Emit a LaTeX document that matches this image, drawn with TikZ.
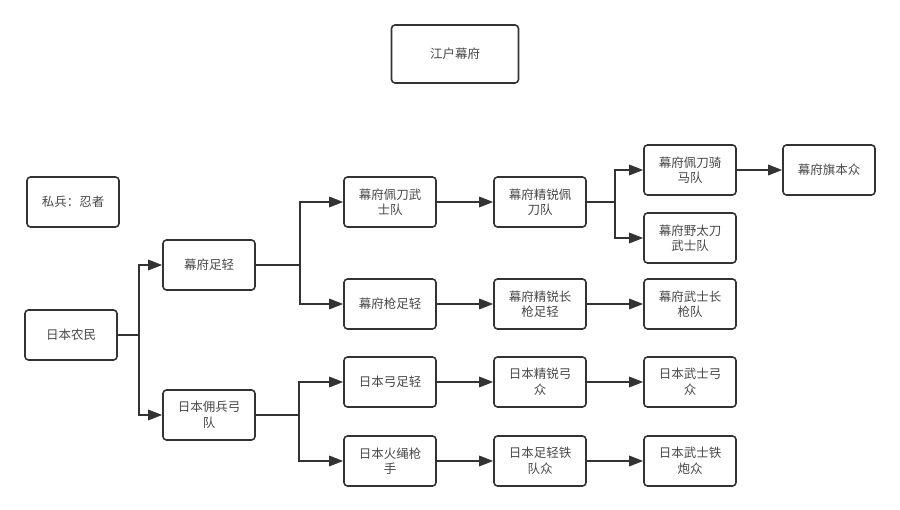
\documentclass[tikz,border=0pt]{standalone}
\usepackage{fontspec}
\setmainfont{Noto Sans CJK SC}
\usetikzlibrary{arrows.meta}
\definecolor{ink}{HTML}{333333}
\tikzset{
  box/.style={draw=ink,line width=1.6pt,rounded corners=3.5pt,minimum width=92pt,
    minimum height=50pt,inner sep=0pt,align=center,text=ink!90,
    font=\fontsize{12.5}{15.5}\selectfont},
  arr/.style={draw=ink,line width=1.6pt,-{Triangle[length=14pt,width=10.5pt]}},
  ln/.style={draw=ink,line width=1.6pt}
}
\begin{document}
\begin{tikzpicture}[x=1pt,y=-1pt]
\useasboundingbox (0,0) rectangle (900,510);
\node[box,minimum width=127pt,minimum height=58pt] (edo) at (455,54) {江户幕府};
\node[box] (ninja) at (73,202) {私兵：忍者};
\node[box] (nongmin) at (71,335) {日本农民};
\node[box] (zuqing) at (209,265) {幕府足轻};
\node[box] (yongbing) at (209,415) {日本佣兵弓\\队};
\node[box] (peidao) at (390,202) {幕府佩刀武\\士队};
\node[box] (qiang) at (390,304) {幕府枪足轻};
\node[box] (gong) at (390,382) {日本弓足轻};
\node[box] (huosheng) at (390,461) {日本火绳枪\\手};
\node[box] (jrpeidao) at (540,202) {幕府精锐佩\\刀队};
\node[box] (jrqiang) at (540,304) {幕府精锐长\\枪足轻};
\node[box] (jrgong) at (540,382) {日本精锐弓\\众};
\node[box] (tiedui) at (540,461) {日本足轻铁\\队众};
\node[box] (qima) at (690,170) {幕府佩刀骑\\马队};
\node[box] (yetaidao) at (690,238) {幕府野太刀\\武士队};
\node[box] (wsqiang) at (690,304) {幕府武士长\\枪队};
\node[box] (wsgong) at (690,382) {日本武士弓\\众};
\node[box] (tiepao) at (690,461) {日本武士铁\\炮众};
\node[box] (qiben) at (829,170) {幕府旗本众};
\coordinate (f1) at (139,335);
\coordinate (f2) at (300,265);
\coordinate (f3) at (299,415);
\coordinate (f4) at (615,202);
\draw[ln] (nongmin.east) -- (f1);
\draw[arr] (f1) |- (zuqing.west);
\draw[arr] (f1) |- (yongbing.west);
\draw[ln] (zuqing.east) -- (f2);
\draw[arr] (f2) |- (peidao.west);
\draw[arr] (f2) |- (qiang.west);
\draw[ln] (yongbing.east) -- (f3);
\draw[arr] (f3) |- (gong.west);
\draw[arr] (f3) |- (huosheng.west);
\draw[ln] (jrpeidao.east) -- (f4);
\draw[arr] (f4) |- (qima.west);
\draw[arr] (f4) |- (yetaidao.west);
\draw[arr] (peidao) -- (jrpeidao);
\draw[arr] (qiang) -- (jrqiang);
\draw[arr] (jrqiang) -- (wsqiang);
\draw[arr] (gong) -- (jrgong);
\draw[arr] (jrgong) -- (wsgong);
\draw[arr] (huosheng) -- (tiedui);
\draw[arr] (tiedui) -- (tiepao);
\draw[arr] (qima) -- (qiben);
\end{tikzpicture}
\end{document}
